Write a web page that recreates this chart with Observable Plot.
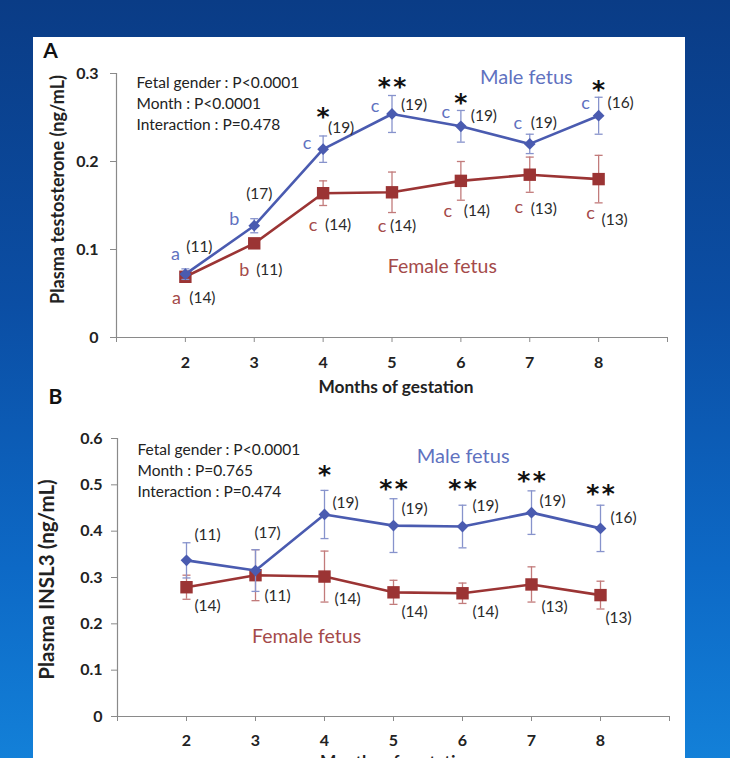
<!DOCTYPE html>
<html>
<head>
<meta charset="utf-8">
<script src="https://cdn.jsdelivr.net/npm/d3@7"></script>
<script src="https://cdn.jsdelivr.net/npm/@observablehq/plot@0.6"></script>
<style>
  html, body { margin: 0; padding: 0; width: 730px; height: 758px; overflow: hidden; }
  body { background: linear-gradient(to bottom, #0a3c86 0%, #0b4ea4 40%, #0d69c6 75%, #1380d8 100%); position: relative; }
  #panel { position: absolute; left: 33px; top: 37px; width: 652px; height: 721px; background: #ffffff; }
  #plotA { position: absolute; left: 33px; top: 37px; }
  #plotB { position: absolute; left: 33px; top: 380px; }
</style>
</head>
<body>
<div id="panel"></div>
<div id="plotA"></div>
<div id="plotB"></div>
<script>
// ---------------- DATA ----------------
const months = [2, 3, 4, 5, 6, 7, 8];
const monthTicks = [1, 2, 3, 4, 5, 6, 7, 8, 9];

// Panel A: plasma testosterone (ng/mL)
const testoMale = [0.072, 0.127, 0.214, 0.254, 0.240, 0.220, 0.252];
const testoMaleErr = [0.006, 0.008, 0.015, 0.021, 0.018, 0.011, 0.021];
const testoFemale = [0.069, 0.107, 0.164, 0.165, 0.178, 0.185, 0.180];
const testoFemaleErr = [0.004, 0.005, 0.014, 0.023, 0.022, 0.020, 0.027];
const testoMaleN = ["(11)", "(17)", "(19)", "(19)", "(19)", "(19)", "(16)"];
const testoFemaleN = ["(14)", "(11)", "(14)", "(14)", "(14)", "(13)", "(13)"];
const testoMaleLetters = ["a", "b", "c", "c", "c", "c", "c"];
const testoFemaleLetters = ["a", "b", "c", "c", "c", "c", "c"];
const testoStars = ["", "", "*", "**", "*", "", "*"];
const testoTicks = [0, 0.1, 0.2, 0.3];
const testoStats = ["Fetal gender : P<0.0001", "Month : P<0.0001", "Interaction : P=0.478"];
const testoYTitle = "Plasma testosterone (ng/mL)";

// Panel B: plasma INSL3 (ng/mL)
const insl3Male = [0.337, 0.315, 0.436, 0.412, 0.410, 0.440, 0.406];
const insl3MaleErr = [0.038, 0.045, 0.052, 0.058, 0.046, 0.047, 0.050];
const insl3Female = [0.279, 0.305, 0.302, 0.268, 0.266, 0.285, 0.262];
const insl3FemaleErr = [0.026, 0.055, 0.055, 0.026, 0.022, 0.038, 0.030];
const insl3MaleN = ["(11)", "(17)", "(19)", "(19)", "(19)", "(19)", "(16)"];
const insl3FemaleN = ["(14)", "(11)", "(14)", "(14)", "(14)", "(13)", "(13)"];
const insl3Stars = ["", "", "*", "**", "**", "**", "**"];
const insl3Ticks = [0, 0.1, 0.2, 0.3, 0.4, 0.5, 0.6];
const insl3Stats = ["Fetal gender : P<0.0001", "Month : P=0.765", "Interaction : P=0.474"];
const insl3YTitle = "Plasma INSL3 (ng/mL)";

const seriesNames = ["Male fetus", "Female fetus"];
const xTitle = "Months of gestation";

// ---------------- LAYOUT (annotation offsets in px) ----------------
const layoutA = {
  maleLetter: [[-10,-20],[-20,-7],[-16,-6],[-17,-8],[-15,-14],[-12,-21],[-13,-13]],
  maleN: [[14,-27],[5,-32],[18,-21],[22,-9],[23,-10],[14,-21],[22,-13]],
  starDy: [0,0,-38,-33,-29,0,-32],
  femaleLetter: [[-9,21],[-10,27],[-10,32],[-10,34],[-13,30],[-11,33],[-8,34]],
  femaleN: [[17,21],[15,27],[15,32],[11,34],[16,30],[14,34],[16,41]]
};
const layoutB = {
  maleN: [[21,-25],[12,-38],[21,-11],[21,-17],[23,-21],[21,-12],[23,-10]],
  starDy: [0,0,-45,-43,-44,-38,-40],
  femaleN: [[21,19],[22,21],[23,22],[21,20],[23,19],[23,23],[18,23]]
};

// ---------------- STYLE ----------------
const BLUE = "#4a5bb0", BLUE_LIGHT = "#8793cc", BLUE_TEXT = "#5f72bf";
const RED = "#9b3434", RED_LIGHT = "#c27b7b", RED_TEXT = "#a44a4a";
const AXIS = "#8a8a8a", INK = "#222222";
const FONT = "Lato, 'Open Sans', sans-serif";
const STAR_FONT = "'DejaVu Sans', sans-serif";

const capSymbol = { draw(ctx) { ctx.moveTo(-4, 0); ctx.lineTo(4, 0); } };

function rows(vals, errs) {
  return months.map((m, i) => ({ month: m, value: vals[i], lo: vals[i] - errs[i], hi: vals[i] + errs[i] }));
}

function pointTexts(vals, texts, offsets, opts) {
  return months.map((m, i) => texts[i] ? Plot.text([{ month: m, value: vals[i], t: texts[i] }], {
    x: "month", y: "value", text: "t", dx: offsets[i][0], dy: offsets[i][1],
    textAnchor: "middle", lineAnchor: "middle", fontFamily: FONT, ...opts
  }) : null).filter(Boolean);
}

function starTexts(vals, stars, dys) {
  return months.map((m, i) => stars[i] ? Plot.text([{ month: m, value: vals[i], t: stars[i] }], {
    x: "month", y: "value", text: d => d.t.split("").join("\u200A"), dx: 0, dy: dys[i] + 6,
    textAnchor: "middle", lineAnchor: "middle", fontFamily: STAR_FONT, fontSize: 25, fontWeight: "bold", fill: "#111"
  }) : null).filter(Boolean);
}

function seriesMarks(vals, errs, color, light, symbol, r) {
  const d = rows(vals, errs);
  return [
    Plot.ruleX(d, { x: "month", y1: "lo", y2: "hi", stroke: light, strokeWidth: 1.3 }),
    Plot.dot(d, { x: "month", y: "lo", symbol: capSymbol, stroke: light, strokeWidth: 1.3, r: 4 }),
    Plot.dot(d, { x: "month", y: "hi", symbol: capSymbol, stroke: light, strokeWidth: 1.3, r: 4 }),
    Plot.line(d, { x: "month", y: "value", stroke: color, strokeWidth: 2.6 }),
    Plot.dot(d, { x: "month", y: "value", symbol, r, fill: color, stroke: null })
  ];
}

function axes(yTicks, yPad, xPad) {
  return [
    Plot.axisY({ ticks: yTicks, tickSize: 6, tickPadding: yPad, tickFormat: d => d === 0 ? "0" : d.toFixed(1),
      label: null, stroke: AXIS, fill: INK, fontSize: 16, fontWeight: "bold", fontFamily: FONT }),
    Plot.axisX({ ticks: monthTicks, tickSize: 5, tickPadding: xPad, tickFormat: d => (d >= 2 && d <= 8) ? String(d) : "",
      label: null, stroke: AXIS, fill: INK, fontSize: 16, fontWeight: "bold", fontFamily: FONT }),
    Plot.ruleX([1], { stroke: AXIS, strokeWidth: 1.2 }),
    Plot.ruleY([0], { stroke: AXIS, strokeWidth: 1.2 })
  ];
}

// ---------------- PANEL A ----------------
const plotA = Plot.plot({
  width: 652, height: 360,
  marginLeft: 83, marginRight: 18, marginTop: 36, marginBottom: 60,
  style: { fontFamily: FONT, background: "transparent", overflow: "visible" },
  x: { domain: [1, 9], axis: null },
  y: { domain: [0, 0.3], axis: null },
  marks: [
    ...axes(testoTicks, 12, 14),
    ...seriesMarks(testoFemale, testoFemaleErr, RED, RED_LIGHT, "square", 7),
    ...seriesMarks(testoMale, testoMaleErr, BLUE, BLUE_LIGHT, "diamond2", 5.3),
    ...pointTexts(testoMale, testoMaleLetters, layoutA.maleLetter, { fill: BLUE_TEXT, fontSize: 18 }),
    ...pointTexts(testoMale, testoMaleN, layoutA.maleN, { fill: "#2a2a2a", fontSize: 15.5 }),
    ...starTexts(testoMale, testoStars, layoutA.starDy),
    ...pointTexts(testoFemale, testoFemaleLetters, layoutA.femaleLetter, { fill: RED_TEXT, fontSize: 18 }),
    ...pointTexts(testoFemale, testoFemaleN, layoutA.femaleN, { fill: "#2a2a2a", fontSize: 15.5 }),
    Plot.text([testoStats.join("\n")], { frameAnchor: "top-left", textAnchor: "start", lineAnchor: "top",
      dx: 20, dy: 0, lineHeight: 1.35, fontSize: 15.5, fill: "#222", fontFamily: FONT }),
    Plot.text([seriesNames[0]], { x: 6.95, y: 0.295, fill: BLUE_TEXT, fontSize: 20, fontFamily: FONT, lineAnchor: "middle" }),
    Plot.text([seriesNames[1]], { x: 5.73, y: 0.080, fill: RED_TEXT, fontSize: 19.5, fontFamily: FONT, lineAnchor: "middle" }),
    Plot.text([testoYTitle], { frameAnchor: "left", textAnchor: "middle", rotate: -90, dx: -58, dy: -16,
      fontSize: 18, fontWeight: "bold", fill: INK, fontFamily: FONT, lineAnchor: "middle" }),
    Plot.text([xTitle], { frameAnchor: "bottom", textAnchor: "middle", dx: 4, dy: 50, fontSize: 17.3, fontWeight: "bold", fill: INK, fontFamily: FONT, lineAnchor: "middle" }),
    Plot.text(["A"], { frameAnchor: "top-left", textAnchor: "middle", dx: -66, dy: -22, fontSize: 21, fontWeight: "bold", fill: "#111", fontFamily: FONT, lineAnchor: "middle" })
  ]
});
document.getElementById("plotA").append(plotA);

// ---------------- PANEL B ----------------
const plotB = Plot.plot({
  width: 652, height: 400,
  marginLeft: 84, marginRight: 16, marginTop: 58, marginBottom: 64,
  style: { fontFamily: FONT, background: "transparent", overflow: "visible" },
  x: { domain: [1, 9], axis: null },
  y: { domain: [0, 0.6], axis: null },
  marks: [
    ...axes(insl3Ticks, 9, 13),
    ...seriesMarks(insl3Female, insl3FemaleErr, RED, RED_LIGHT, "square", 7),
    ...seriesMarks(insl3Male, insl3MaleErr, BLUE, BLUE_LIGHT, "diamond2", 5.3),
    ...pointTexts(insl3Male, insl3MaleN, layoutB.maleN, { fill: "#2a2a2a", fontSize: 15.5 }),
    ...starTexts(insl3Male, insl3Stars, layoutB.starDy),
    ...pointTexts(insl3Female, insl3FemaleN, layoutB.femaleN, { fill: "#2a2a2a", fontSize: 15.5 }),
    Plot.text([insl3Stats.join("\n")], { frameAnchor: "top-left", textAnchor: "start", lineAnchor: "top",
      dx: 20, dy: 1, lineHeight: 1.38, fontSize: 15.5, fill: "#222", fontFamily: FONT }),
    Plot.text([seriesNames[0]], { x: 6.01, y: 0.561, fill: BLUE_TEXT, fontSize: 20, fontFamily: FONT, lineAnchor: "middle" }),
    Plot.text([seriesNames[1]], { x: 3.74, y: 0.173, fill: RED_TEXT, fontSize: 19.5, fontFamily: FONT, lineAnchor: "middle" }),
    Plot.text([insl3YTitle], { frameAnchor: "left", textAnchor: "middle", rotate: -90, dx: -70, dy: 2,
      fontSize: 20.5, fontWeight: "bold", fill: INK, fontFamily: FONT, lineAnchor: "middle" }),
    Plot.text([xTitle], { frameAnchor: "bottom", textAnchor: "middle", dx: 4, dy: 46, fontSize: 17.3, fontWeight: "bold", fill: INK, fontFamily: FONT, lineAnchor: "middle" }),
    Plot.text(["B"], { frameAnchor: "top-left", textAnchor: "middle", dx: -62, dy: -41, fontSize: 21, fontWeight: "bold", fill: "#111", fontFamily: FONT, lineAnchor: "middle" })
  ]
});
document.getElementById("plotB").append(plotB);
</script>
</body>
</html>
